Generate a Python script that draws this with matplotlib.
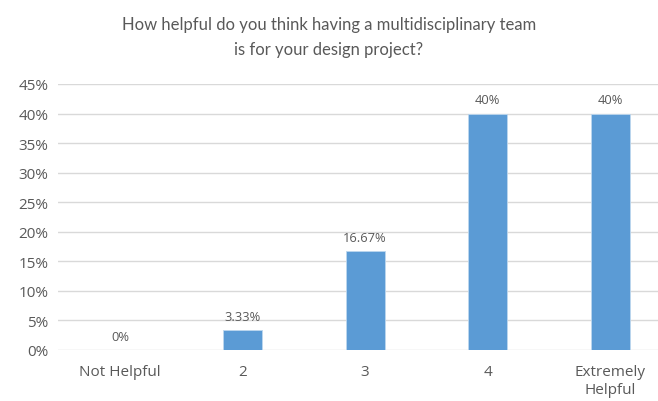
import matplotlib.pyplot as plt
import numpy as np

categories = ["Not Helpful", "2", "3", "4", "Extremely\nHelpful"]
values = [0, 3.33, 16.67, 40, 40]
labels = ["0%", "3.33%", "16.67%", "40%", "40%"]

plt.rcParams['font.family'] = ['Open Sans', 'DejaVu Sans']
txt = '#595959'

fig = plt.figure(figsize=(6.58, 4.02), dpi=100)
ax = fig.add_axes([58/658, (402-351)/402, 600/658, 266/402])

x = np.arange(len(categories))
ax.bar(x, values, width=0.32, color='#5B9BD5', edgecolor='#BDD7EE', linewidth=0.6, zorder=3)

for xi, v, lab in zip(x, values, labels):
    ax.text(xi, v + 1.2, lab, ha='center', va='bottom', fontsize=9.3, color=txt)

ax.set_ylim(0, 45)
ax.set_xlim(-0.506, 4.39)
ax.set_yticks(np.arange(0, 46, 5))
ax.set_yticklabels([f"{t}%" for t in range(0, 46, 5)], fontsize=11, color=txt)
ax.set_xticks(x)
ax.set_xticklabels(categories, fontsize=11, color=txt, linespacing=1.3)
ax.tick_params(length=0, pad=7)
ax.tick_params(axis='x', pad=10)
ax.yaxis.grid(True, color='#D9D9D9', linewidth=1, zorder=0)
for s in ax.spines.values():
    s.set_visible(False)

fig.text(329/658, 1 - 55/402, "How helpful do you think having a multidisciplinary team\nis for your design project?",
         ha='center', va='baseline', fontsize=12, color=txt, linespacing=1.7,
         family=['Lato', 'Open Sans'])

fig.savefig("out.png", dpi=100)
